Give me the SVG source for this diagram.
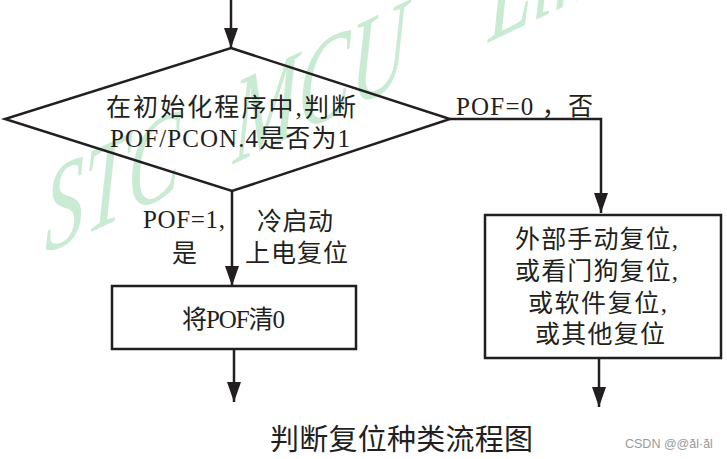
<svg xmlns="http://www.w3.org/2000/svg" width="727" height="459" viewBox="0 0 727 459">
<style>
.t{font-family:"Liberation Serif","Noto Sans CJK SC",serif;font-size:25px;fill:#231f20}
.ln{stroke:#231f20;stroke-width:2.5;fill:none}
.wm{font-family:"Liberation Serif",serif;font-style:italic;font-size:98px;fill:#c9ead3}
</style>
<defs>
<marker id="arr" markerUnits="userSpaceOnUse" markerWidth="21" markerHeight="14" refX="20" refY="7" orient="auto" viewBox="0 0 21 14">
<path d="M0,0 L20,7 L0,14 Z" fill="#231f20"/>
</marker>
</defs>
<rect width="727" height="459" fill="#fff"/>
<g id="watermark" transform="translate(45,254) skewY(-25.5) scale(0.8,1.25)">
<text class="wm" x="0" y="0">STC</text>
<text class="wm" x="235" y="0">MCU</text>
<text class="wm" x="554" y="0">Limited</text>
</g>
<g id="connectors">
<line class="ln" x1="231" y1="0" x2="231" y2="48" marker-end="url(#arr)"/>
<polyline class="ln" points="450,119 601,119 601,213" marker-end="url(#arr)"/>
<line class="ln" x1="232" y1="191" x2="232" y2="286" marker-end="url(#arr)"/>
<line class="ln" x1="234" y1="349" x2="234" y2="402" marker-end="url(#arr)"/>
<line class="ln" x1="599" y1="358" x2="599" y2="407" marker-end="url(#arr)"/>
<text class="t" x="456" y="115" textLength="137" lengthAdjust="spacing">POF=0 ，否</text>
<text class="t" x="143" y="228" textLength="82" lengthAdjust="spacing">POF=1,</text>
<text class="t" x="172" y="262">是</text>
<text class="t" x="257" y="230" textLength="76" lengthAdjust="spacing">冷启动</text>
<text class="t" x="245" y="262" textLength="103" lengthAdjust="spacing">上电复位</text>
</g>
<g id="decision">
<polygon class="ln" points="231,48 450,119 232,191 5,119"/>
<text class="t" x="106" y="116" textLength="250" lengthAdjust="spacing">在初始化程序中,判断</text>
<text class="t" x="110" y="147" textLength="240" lengthAdjust="spacing">POF/PCON.4是否为1</text>
</g>
<g id="clear-pof">
<rect class="ln" x="112" y="286" width="244" height="63"/>
<text class="t" x="182" y="328" textLength="103" lengthAdjust="spacing">将POF清0</text>
</g>
<g id="other-reset">
<rect class="ln" x="485" y="215" width="236" height="143"/>
<text class="t" x="515" y="248" textLength="163" lengthAdjust="spacing">外部手动复位,</text>
<text class="t" x="515" y="280" textLength="163" lengthAdjust="spacing">或看门狗复位,</text>
<text class="t" x="528" y="312" textLength="139" lengthAdjust="spacing">或软件复位,</text>
<text class="t" x="535" y="343" textLength="130" lengthAdjust="spacing">或其他复位</text>
</g>
<g id="title">
<text class="t" x="270" y="450" style="font-size:29px" textLength="263" lengthAdjust="spacing">判断复位种类流程图</text>
</g>
<text x="625" y="448" style="font-family:'Liberation Sans',sans-serif;font-size:12.5px;fill:#9a9a9a">CSDN @@ả̈l·ả̈l</text>
</svg>
